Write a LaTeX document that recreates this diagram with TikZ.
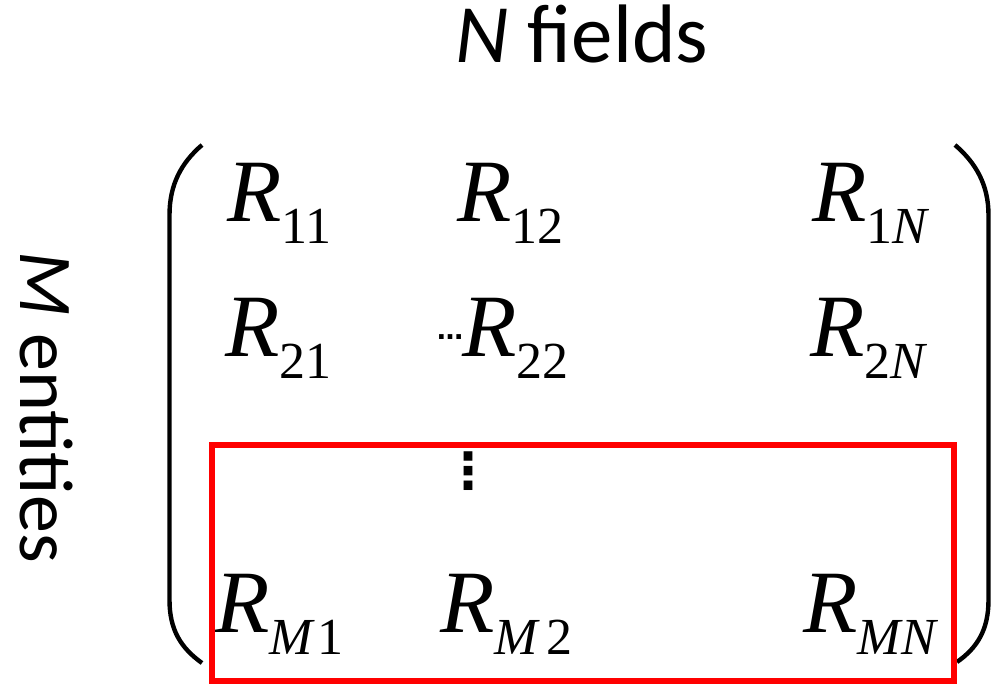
\documentclass[tikz,border=0pt]{standalone}
\usepackage{fontspec}
\setmainfont{Liberation Serif}
\newfontfamily\calibfont{Carlito}
\newfontfamily\dotfont{DejaVu Sans}

% one matrix entry: italic R with a lowered index
\newcommand{\entry}[1]{{\fontsize{44.5}{44.5}\selectfont\textit{R}}%
  \raisebox{-11pt}{\fontsize{26}{26}\selectfont #1}}

\begin{document}
\begin{tikzpicture}[
  x=0.5pt,y=-0.5pt,
  ent/.style={anchor=base west,inner sep=0pt},
  lbl/.style={anchor=base,inner sep=0pt,
              font=\calibfont\fontsize{38}{38}\selectfont},
  dots/.style={inner sep=0pt,font=\dotfont\bfseries\fontsize{13}{13}\selectfont},
  paren/.style={line width=2.2pt},
  hl/.style={draw=red,line width=3pt}]
\useasboundingbox (0,0) rectangle (1002,684);
% axis labels
\node[lbl,font=\calibfont\fontsize{41.5}{41.5}\selectfont] (fields) at (582,63) {\textit{N} fields};
\node[lbl,rotate=-90] (entities) at (20,407) {\textit{M} entities};
% dots
\node[dots,anchor=base] (hdots) at (450,339.5) {…};
\node[dots,font=\dotfont\bfseries\fontsize{25}{25}\selectfont] (vdots) at (468,471.5) {⋮};
% entries
\node[ent] (r11) at (227,222) {\entry{11}};
\node[ent] (r12) at (457,222) {\entry{12}};
\node[ent] (r1n) at (812,222) {\entry{1\textit{N}}};
\node[ent] (r21) at (225,357) {\entry{21}};
\node[ent] (r22) at (462,357) {\entry{22}};
\node[ent] (r2n) at (810,357) {\entry{2\textit{N}}};
\node[ent] (rm1) at (215,632) {\entry{\textit{M}\kern1pt 1}};
\node[ent] (rm2) at (440,632) {\entry{\textit{M}\kern3pt 2}};
\node[ent] (rmn) at (803,632) {\entry{\textit{MN}}};
% brackets
\draw[paren] (202,145) .. controls (181,163) and (169.5,185) .. (169.5,215)
  -- (169.5,600) .. controls (169.5,630) and (181,648) .. (202,663);
\draw[paren] (955,145) .. controls (976,163) and (988.5,185) .. (988.5,215)
  -- (988.5,600) .. controls (988.5,630) and (977,648) .. (957,662);
% highlighted block
\draw[hl] (212,445) rectangle (954,681);
\end{tikzpicture}
\end{document}
